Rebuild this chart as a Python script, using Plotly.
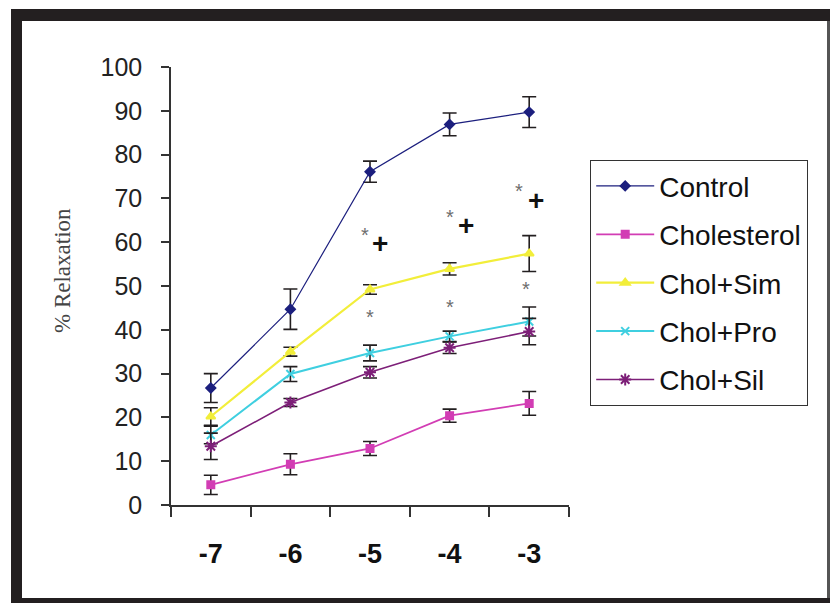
import plotly.graph_objects as go

# ---------------- data ----------------
concentrations = ["-7", "-6", "-5", "-4", "-3"]
series_names = ["Control", "Cholesterol", "Chol+Sim", "Chol+Pro", "Chol+Sil"]
control = [26.7, 44.7, 76.1, 86.9, 89.7]
control_err = [3.3, 4.6, 2.4, 2.6, 3.5]
cholesterol = [4.6, 9.3, 12.9, 20.4, 23.2]
cholesterol_err = [2.2, 2.4, 1.6, 1.5, 2.7]
chol_sim = [20.2, 35.0, 49.2, 53.9, 57.4]
chol_sim_err = [2.0, 1.0, 1.1, 1.4, 4.1]
chol_pro = [16.0, 29.9, 34.7, 38.5, 41.9]
chol_pro_err = [2.0, 1.7, 1.8, 1.2, 3.3]
chol_sil = [13.4, 23.4, 30.3, 35.9, 39.6]
chol_sil_err = [3.0, 0.9, 1.3, 1.3, 3.0]
tick_values = [0, 10, 20, 30, 40, 50, 60, 70, 80, 90, 100]
# significance marks: (category index position, y value)
star_upper_x = [1.94, 3.0, 3.87]
star_upper_y = [61.7, 65.7, 71.6]
plus_x = [2.13, 3.21, 4.08]
plus_y = [59.7, 63.8, 69.5]
star_lower_x = [2.0, 3.0, 3.96]
star_lower_y = [42.9, 45.3, 49.4]

# ---------------- layout geometry ----------------
W, H = 830, 603
L, R, T, B = 171, 569, 67, 505


def px(x):
    return (x - L) / (R - L)


def py(y):
    return (B - y) / (B - T)


values = [control, cholesterol, chol_sim, chol_pro, chol_sil]
errors = [control_err, cholesterol_err, chol_sim_err, chol_pro_err, chol_sil_err]
colors = ["#1c1f7e", "#d23db4", "#f2ee3a", "#3fcfe0", "#7d1f78"]
symbols = ["diamond", "square", "triangle-up", "x-thin-open", "asterisk-open"]
msizes = [7, 7, 8, 8, 10]
lwidths = [1.2, 1.8, 2.2, 2.0, 1.6]

fig = go.Figure()
for i, name in enumerate(series_names):
    fig.add_trace(go.Scatter(
        x=concentrations, y=values[i], name=name, mode="lines+markers",
        line=dict(color=colors[i], width=lwidths[i]),
        marker=dict(symbol=symbols[i], size=msizes[i], color=colors[i],
                    line=dict(color=colors[i], width=2)),
        error_y=dict(type="data", array=errors[i], visible=True,
                     color="#231f20", thickness=1.6, width=7),
        legendgroup=name,
    ))

annotations = []
for x, y in zip(star_upper_x + star_lower_x, star_upper_y + star_lower_y):
    annotations.append(dict(x=x, y=y, xref="x", yref="y", text="*", showarrow=False,
                            font=dict(family="Liberation Sans", size=20, color="#6e6e6e")))
for x, y in zip(plus_x, plus_y):
    annotations.append(dict(x=x, y=y, xref="x", yref="y", text="<b>+</b>", showarrow=False,
                            font=dict(family="Liberation Sans", size=28, color="#111111")))
annotations.append(dict(x=px(62), y=py(270), xref="paper", yref="paper",
                        text="% Relaxation", textangle=-90, showarrow=False,
                        xanchor="center", yanchor="middle",
                        font=dict(family="Liberation Serif", size=23, color="#444444")))

frame = "#231f20"
shapes = [
    dict(type="rect", xref="paper", yref="paper", x0=px(11), x1=px(831), y0=py(9), y1=py(21),
         fillcolor=frame, line=dict(width=0)),
    dict(type="rect", xref="paper", yref="paper", x0=px(11), x1=px(22), y0=py(9), y1=py(604),
         fillcolor=frame, line=dict(width=0)),
    dict(type="rect", xref="paper", yref="paper", x0=px(11), x1=px(831), y0=py(598), y1=py(604),
         fillcolor=frame, line=dict(width=0)),
    dict(type="rect", xref="paper", yref="paper", x0=px(827), x1=px(831), y0=py(21), y1=py(598),
         fillcolor="#555555", line=dict(width=0)),
]

fig.update_layout(
    width=W, height=H,
    margin=dict(l=L, r=W - R, t=T, b=H - B, pad=0),
    paper_bgcolor="white", plot_bgcolor="white",
    showlegend=True,
    legend=dict(x=px(590), y=py(160), xanchor="left", yanchor="top",
                bordercolor="#333333", borderwidth=1.2, bgcolor="white",
                font=dict(family="Liberation Sans", size=28, color="#111111"),
                traceorder="grouped", tracegroupgap=9, itemwidth=58),
    annotations=annotations,
    shapes=shapes,
    xaxis=dict(type="category", tickson="boundaries", range=[-0.5, 4.5],
               showline=True, linecolor="#333333", linewidth=1.5,
               ticks="outside", ticklen=10, tickwidth=1.5, tickcolor="#333333",
               showgrid=False, zeroline=False, ticklabelstandoff=24,
               tickfont=dict(family="Liberation Sans", size=27, color="#111111",
                             weight="bold")),
    yaxis=dict(range=[0, 100], tickvals=tick_values,
               showline=True, linecolor="#333333", linewidth=1.5,
               ticks="outside", ticklen=8, tickwidth=1.5, tickcolor="#333333",
               showgrid=False, zeroline=False, ticklabelstandoff=14,
               tickfont=dict(family="Liberation Sans", size=25, color="#222222")),
)

fig.write_html("out.html", config={"displayModeBar": False},
               post_script="document.body.style.margin='0px';"
                           "document.body.style.overflow='hidden';")
